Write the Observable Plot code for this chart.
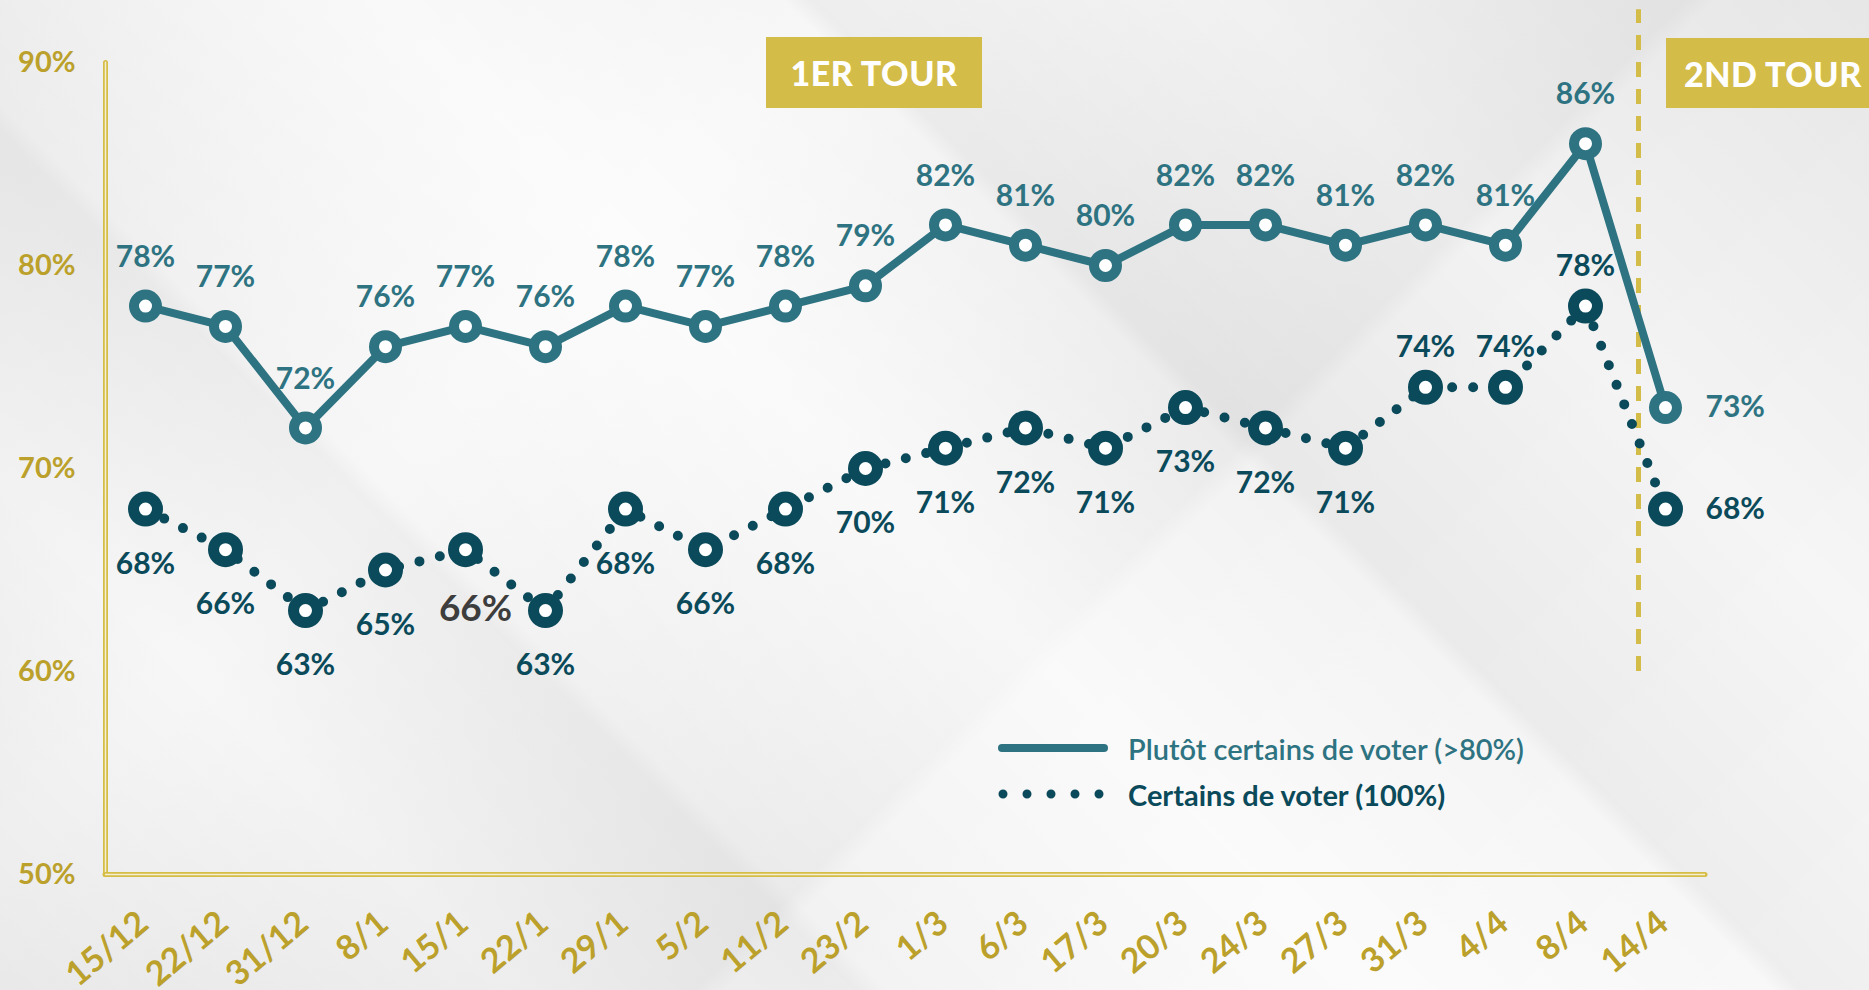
<!DOCTYPE html>
<html>
<head>
<meta charset="utf-8">
<script src="https://cdn.jsdelivr.net/npm/d3@7"></script>
<script src="https://cdn.jsdelivr.net/npm/@observablehq/plot@0.6"></script>
<style>
  html, body { margin: 0; padding: 0; }
  body {
    width: 1869px; height: 990px; overflow: hidden; position: relative;
    font-family: Lato, "Open Sans", sans-serif;
    background:
      linear-gradient(45deg, rgba(0,0,0,0.05) 0%, rgba(0,0,0,0.0) 18%, rgba(0,0,0,0.03) 30%, rgba(0,0,0,0) 31%, rgba(255,255,255,0.6) 48%, rgba(0,0,0,0) 62%, rgba(0,0,0,0.04) 63%, rgba(0,0,0,0.0) 78%, rgba(0,0,0,0.05) 100%),
      linear-gradient(-45deg, rgba(255,255,255,0.5) 0%, rgba(255,255,255,0) 40%, rgba(0,0,0,0.03) 41%, rgba(255,255,255,0.4) 70%, rgba(0,0,0,0.03) 100%),
      #f2f2f2;
  }
  #chart { position: absolute; left: 0; top: 0; }
  g[aria-label="xlabels"] text { letter-spacing: 1px; }
  .tour {
    position: absolute; background: #d4bc48; color: #fff;
    font-family: Lato, sans-serif; font-weight: 900; font-size: 34px;
    display: flex; align-items: center; white-space: nowrap; letter-spacing: 0.5px;
  }
  #tour1 { left: 766px; top: 37px; width: 216px; height: 71px; justify-content: center; }
  #tour2 { left: 1666px; top: 38px; width: 230px; height: 70px; padding-left: 18px; box-sizing: border-box; }
  #legend { position: absolute; left: 996px; top: 725px; font-family: Lato, sans-serif; }
  .lg { display: flex; align-items: center; height: 46px; }
  .lg svg { margin-right: 18px; }
  .lg1 { color: #2e7381; font-size: 29px; font-weight: 600; }
  .lg2 { color: #0b4a5a; font-size: 29px; font-weight: 700; }
</style>
</head>
<body>
<div id="chart"></div>
<div class="tour" id="tour1">1ER TOUR</div>
<div class="tour" id="tour2">2ND TOUR</div>
<div id="legend">
  <div class="lg lg1"><svg width="114" height="20"><line x1="6" y1="10" x2="108" y2="10" stroke="#2e7381" stroke-width="8" stroke-linecap="round"/></svg>Plutôt certains de voter (&gt;80%)</div>
  <div class="lg lg2"><svg width="114" height="20"><line x1="7" y1="10" x2="108" y2="10" stroke="#0b4a5a" stroke-width="9" stroke-linecap="round" stroke-dasharray="0 24"/></svg>Certains de voter (100%)</div>
</div>
<script>
const dates = ["15/12","22/12","31/12","8/1","15/1","22/1","29/1","5/2","11/2","23/2","1/3","6/3","17/3","20/3","24/3","27/3","31/3","4/4","8/4","14/4"];
const plutot = [78,77,72,76,77,76,78,77,78,79,82,81,80,82,82,81,82,81,86,73];
const certains = [68,66,63,65,66,63,68,66,68,70,71,72,71,73,72,71,74,74,78,68];
const yTicks = [50,60,70,80,90];

const gold = "#bba12b";
const goldLine = "#d6bd45";
const teal = "#2e7381";
const dark = "#0b4a5a";

const s1 = dates.map((d, i) => ({date: d, value: plutot[i], i}));
const s2 = dates.map((d, i) => ({date: d, value: certains[i], i}));
const last = dates.length - 1;

const s1Above = s1.filter(d => d.i < last);
const s1Right = s1.filter(d => d.i === last);
const s2Below = s2.filter(d => d.i < 16 && d.i !== 4);
const s2Special = s2.filter(d => d.i === 4);
const s2Above = s2.filter(d => d.i >= 16 && d.i < last);
const s2Right = s2.filter(d => d.i === last);

const fmt = d => d.value + "%";
const lbl = {fontFamily: "Lato, sans-serif", fontSize: 30, fontWeight: 700};

const chart = Plot.plot({
  width: 1869,
  height: 990,
  marginLeft: 105,
  marginRight: 164,
  marginTop: 62,
  marginBottom: 116,
  style: {background: "transparent", fontFamily: "Lato, sans-serif", overflow: "visible"},
  x: {type: "point", domain: dates, padding: 0.5, label: null, axis: null},
  y: {domain: [50, 90], label: null},
  marks: [
    Plot.frame({anchor: "left", stroke: goldLine, strokeWidth: 5, strokeLinecap: "round"}),
    Plot.frame({anchor: "left", stroke: "#f4eed2", strokeWidth: 1.5}),
    Plot.ruleY([50], {stroke: goldLine, strokeWidth: 5, strokeLinecap: "round"}),
    Plot.ruleY([50], {stroke: "#f4eed2", strokeWidth: 1.5}),
    Plot.axisY({ticks: yTicks, tickFormat: d => d + "%", tickSize: 0, tickPadding: 30, fontSize: 29, fontWeight: 700, fill: gold, label: null}),
    Plot.text(dates, {x: d => d, frameAnchor: "bottom", rotate: -40, textAnchor: "end", lineAnchor: "middle", dx: -2, dy: 44, fontSize: 34, fontWeight: 700, fill: gold, fontFamily: "Lato, sans-serif", ariaLabel: "xlabels"}),
    Plot.ruleX([dates[last]], {y1: 60, y2: 92.6, dx: -27, stroke: "#d4bc48", strokeWidth: 5, strokeDasharray: "15 12"}),
    Plot.line(s2, {x: "date", y: "value", stroke: dark, strokeWidth: 10, strokeDasharray: "0 21", strokeLinecap: "round"}),
    Plot.line(s1, {x: "date", y: "value", stroke: teal, strokeWidth: 8, strokeLinejoin: "round"}),
    Plot.dot(s2, {x: "date", y: "value", r: 12, fill: "white", stroke: dark, strokeWidth: 11}),
    Plot.dot(s1, {x: "date", y: "value", r: 11.5, fill: "white", stroke: teal, strokeWidth: 10}),
    Plot.text(s1Above, {x: "date", y: "value", text: fmt, dy: -49, fill: teal, ...lbl}),
    Plot.text(s1Right, {x: "date", y: "value", text: fmt, dx: 40, textAnchor: "start", fill: teal, ...lbl}),
    Plot.text(s2Below, {x: "date", y: "value", text: fmt, dy: 55, fill: dark, ...lbl}),
    Plot.text(s2Special, {x: "date", y: "value", text: fmt, dy: 59, dx: 10, fill: "#3d3d3d", fontFamily: "Lato, sans-serif", fontSize: 37, fontWeight: 700}),
    Plot.text(s2Above, {x: "date", y: "value", text: fmt, dy: -40, fill: dark, ...lbl}),
    Plot.text(s2Right, {x: "date", y: "value", text: fmt, dx: 40, textAnchor: "start", fill: dark, ...lbl})
  ]
});
document.getElementById("chart").appendChild(chart);
</script>
</body>
</html>
